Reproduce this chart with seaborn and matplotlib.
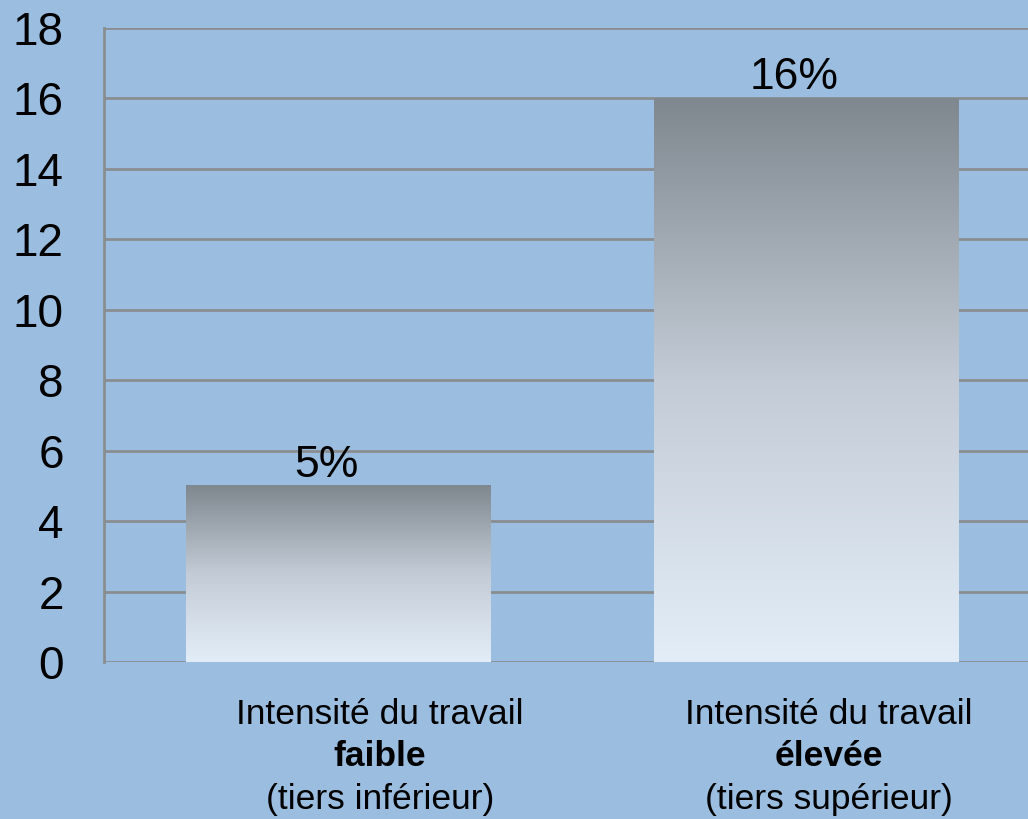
import numpy as np
import pandas as pd
import matplotlib.pyplot as plt
from matplotlib.colors import LinearSegmentedColormap
import seaborn as sns

categories = ["faible", "élevée"]
values = [5, 16]
value_labels = ["5%", "16%"]
line1 = ["Intensité du travail", "Intensité du travail"]
line3 = ["(tiers inférieur)", "(tiers supérieur)"]
yticks = [0, 2, 4, 6, 8, 10, 12, 14, 16, 18]

BG = "#9bbde0"
GRID = "#8a8d90"

sns.set_style("white")
plt.rcParams["font.family"] = ["Liberation Sans", "DejaVu Sans"]
plt.rcParams["text.color"] = "black"
plt.rcParams["ytick.color"] = "black"

df = pd.DataFrame({"cat": categories, "val": values})

fig = plt.figure(figsize=(10.28, 8.19), dpi=100)
fig.patch.set_facecolor(BG)
ax = fig.add_axes([104 / 1028, (819 - 662) / 819, (1040 - 104) / 1028, 634 / 819])
ax.set_facecolor(BG)

sns.barplot(data=df, x="cat", y="val", ax=ax, width=0.65, color="#b0b8c2", zorder=2)

ax.set_yticks(yticks)
ax.set_yticklabels([str(t) for t in yticks], fontsize=33, color="black")
ax.tick_params(axis="y", length=0, pad=29)
ax.tick_params(axis="x", length=0)
ax.set_xticklabels([])
ax.set_xlabel("")
ax.set_ylabel("")
for s in ["top", "right", "bottom"]:
    ax.spines[s].set_visible(False)
ax.spines["left"].set_color(GRID)
ax.spines["left"].set_linewidth(2)
ax.yaxis.grid(True, color=GRID, linewidth=2)
ax.set_axisbelow(True)

# gradient fill on each bar
cmap = LinearSegmentedColormap.from_list("g", ["#e3edf8", "#c3ccd6", "#7f878f"])
grad = np.linspace(0, 1, 256).reshape(-1, 1)
for p, lab in zip(ax.patches, value_labels):
    x0, y0 = p.get_x(), p.get_y()
    w, h = p.get_width(), p.get_height()
    p.set_alpha(0)
    ax.imshow(grad, extent=[x0, x0 + w, y0, y0 + h], origin="lower",
              aspect="auto", cmap=cmap, zorder=3, interpolation="bicubic")
    ax.text(x0 + w / 2 - 0.025, y0 + h + 0.0, lab, ha="center", va="bottom",
            fontsize=32, zorder=4)
ax.set_xlim(-0.5, 1.5)
ax.set_ylim(0, 18)

label_x = [380 / 1028, 829 / 1028]
for i, cat in enumerate(categories):
    fig.text(label_x[i], 1 - 715 / 819, line1[i], ha="center", va="center", fontsize=25.5)
    fig.text(label_x[i], 1 - 757 / 819, cat, ha="center", va="center",
             fontsize=25.5, fontweight="bold")
    fig.text(label_x[i], 1 - 800 / 819, line3[i], ha="center", va="center", fontsize=25.5)

fig.savefig("out.png", dpi=100, facecolor=BG)
